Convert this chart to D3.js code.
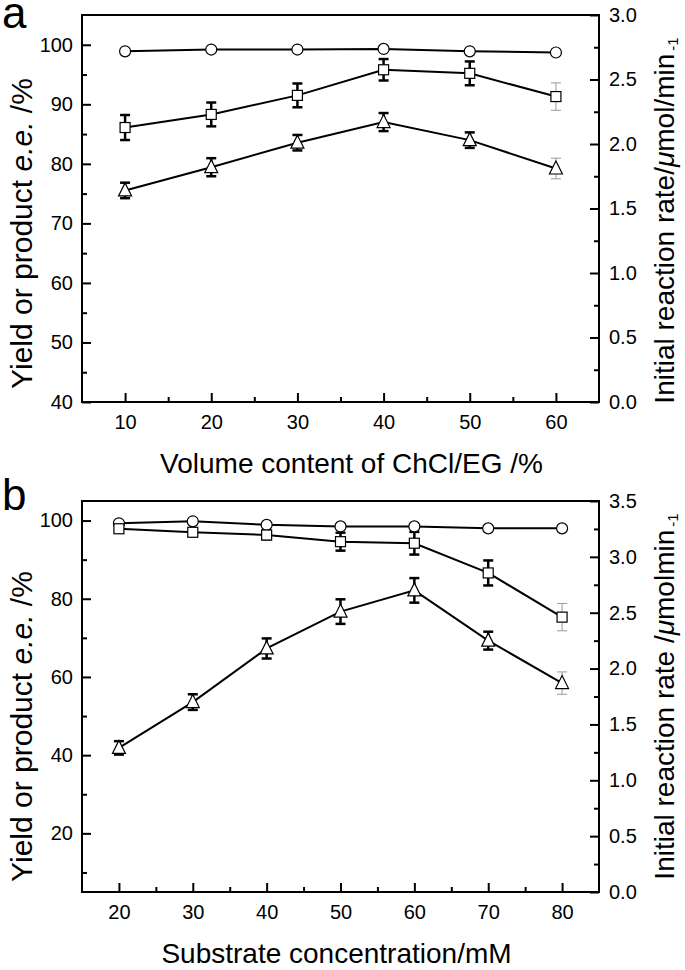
<!DOCTYPE html>
<html><head><meta charset="utf-8">
<script src="https://cdn.jsdelivr.net/npm/d3@7"></script>
<style>
html,body{margin:0;padding:0;background:#fff;}
svg{display:block;font-family:"Liberation Sans",Arial,sans-serif;}
</style></head>
<body>
<svg id="chart" width="685" height="970"></svg>
<script>
// ---------- Data ----------
// Panel a
const xA = [10, 20, 30, 40, 50, 60];
const circleA = [98.9, 99.2, 99.2, 99.3, 98.9, 98.7];          // left axis (%)
const squareA = [86.1, 88.3, 91.5, 95.8, 95.2, 91.3];          // left axis (%)
const squareAErr = [2.1, 2.0, 2.0, 1.8, 2.0, 2.3];
const triA = [1.64, 1.82, 2.01, 2.17, 2.03, 1.81];             // right axis (rate)
const triAErr = [0.06, 0.07, 0.06, 0.07, 0.06, 0.08];
const xTicksA = [10, 20, 30, 40, 50, 60];
const leftTicksA = [40, 50, 60, 70, 80, 90, 100];
const rightTicksA = [0.0, 0.5, 1.0, 1.5, 2.0, 2.5, 3.0];

// Panel b
const xB = [20, 30, 40, 50, 60, 70, 80];
const circleB = [99.3, 99.8, 98.9, 98.5, 98.5, 98.0, 98.0];
const squareB = [97.9, 97.0, 96.3, 94.6, 94.2, 86.6, 75.3];
const squareBErr = [0.6, 0.9, 1.1, 2.3, 2.9, 3.2, 3.5];
const triB = [1.29, 1.70, 2.18, 2.51, 2.70, 2.25, 1.87];
const triBErr = [0.06, 0.07, 0.09, 0.11, 0.11, 0.08, 0.10];
const xTicksB = [20, 30, 40, 50, 60, 70, 80];
const leftTicksB = [20, 40, 60, 80, 100];
const rightTicksB = [0.0, 0.5, 1.0, 1.5, 2.0, 2.5, 3.0, 3.5];

const svg = d3.select("#chart");
const L = 82, R = 599;

function panel(cfg) {
  const g = svg.append("g");
  const x = d3.scaleLinear().domain(cfg.xDomain).range([L, R]);
  const yl = d3.scaleLinear().domain(cfg.lDomain).range([cfg.bottom, cfg.top]);
  const yr = d3.scaleLinear().domain(cfg.rDomain).range([cfg.bottom, cfg.top]);

  const tickStyle = sel => {
    sel.select(".domain").remove();
    sel.selectAll("line").attr("stroke", "#000").attr("stroke-width", 2);
    sel.selectAll("text").attr("fill", "#000").attr("font-size", 20);
  };
  const bx = g.append("g").attr("transform", `translate(0,${cfg.bottom})`);
  bx.call(d3.axisBottom(x).tickValues(cfg.xMinor).tickSize(-5).tickFormat(""));
  tickStyle(bx);
  const bx2 = g.append("g").attr("transform", `translate(0,${cfg.bottom})`);
  bx2.call(d3.axisBottom(x).tickValues(cfg.xTicks).tickSize(-9).tickPadding(13).tickFormat(d3.format("d")));
  tickStyle(bx2);
  const ly = g.append("g").attr("transform", `translate(${L},0)`);
  ly.call(d3.axisLeft(yl).tickValues(cfg.lMinor).tickSize(-5).tickFormat(""));
  tickStyle(ly);
  const ly2 = g.append("g").attr("transform", `translate(${L},0)`);
  ly2.call(d3.axisLeft(yl).tickValues(cfg.lTicks).tickSize(-9).tickPadding(9).tickFormat(d3.format("d")));
  tickStyle(ly2);
  const ry = g.append("g").attr("transform", `translate(${R},0)`);
  ry.call(d3.axisRight(yr).tickValues(cfg.rMinor).tickSize(-5).tickFormat(""));
  tickStyle(ry);
  const ry2 = g.append("g").attr("transform", `translate(${R},0)`);
  ry2.call(d3.axisRight(yr).tickValues(cfg.rTicks).tickSize(-9).tickPadding(10).tickFormat(d3.format(".1f")));
  tickStyle(ry2);

  g.append("rect").attr("x", L).attr("y", cfg.top).attr("width", R - L).attr("height", cfg.bottom - cfg.top)
    .attr("fill", "none").attr("stroke", "#000").attr("stroke-width", 2);

  const n = cfg.xs.length;
  const lineGen = (ys, sc) => d3.line().x((d, i) => x(cfg.xs[i])).y(d => sc(d))(ys);

  g.append("path").attr("d", lineGen(cfg.circle, yl)).attr("fill", "none").attr("stroke", "#000").attr("stroke-width", 2);
  g.append("path").attr("d", lineGen(cfg.square, yl)).attr("fill", "none").attr("stroke", "#000").attr("stroke-width", 2);
  g.append("path").attr("d", lineGen(cfg.tri, yr)).attr("fill", "none").attr("stroke", "#000").attr("stroke-width", 2);

  function errBars(vals, errs, sc) {
    vals.forEach((v, i) => {
      const last = i === n - 1;
      const col = last ? "#999" : "#000";
      const w = last ? 1 : 2.5;
      const cx = x(cfg.xs[i]);
      const y1 = sc(v + errs[i]), y2 = sc(v - errs[i]);
      g.append("line").attr("x1", cx).attr("x2", cx).attr("y1", y1).attr("y2", y2).attr("stroke", col).attr("stroke-width", w);
      [y1, y2].forEach(yy => g.append("line").attr("x1", cx - 5).attr("x2", cx + 5).attr("y1", yy).attr("y2", yy)
        .attr("stroke", col).attr("stroke-width", w));
    });
  }
  errBars(cfg.square, cfg.squareErr, yl);
  errBars(cfg.tri, cfg.triErr, yr);

  cfg.circle.forEach((v, i) => g.append("circle").attr("cx", x(cfg.xs[i])).attr("cy", yl(v)).attr("r", 5.5)
    .attr("fill", "#fff").attr("stroke", "#000").attr("stroke-width", 1.2));
  cfg.square.forEach((v, i) => g.append("rect").attr("x", x(cfg.xs[i]) - 5).attr("y", yl(v) - 5)
    .attr("width", 10).attr("height", 10).attr("fill", "#fff").attr("stroke", "#000").attr("stroke-width", 1.2));
  cfg.tri.forEach((v, i) => {
    const cx = x(cfg.xs[i]), cy = yr(v);
    g.append("path").attr("d", `M${cx},${cy - 7.5}L${cx + 6.5},${cy + 5.5}L${cx - 6.5},${cy + 5.5}Z`)
      .attr("fill", "#fff").attr("stroke", "#000").attr("stroke-width", 1.2);
  });

  svg.append("text").attr("x", 2).attr("y", cfg.letterY).attr("font-size", 44).text(cfg.letter);

  svg.append("text").attr("x", (L + R) / 2 + cfg.xTitleShift).attr("y", cfg.xTitleY).attr("text-anchor", "middle")
    .attr("font-size", 28).text(cfg.xTitle);

  const mid = (cfg.top + cfg.bottom) / 2;
  const lt = svg.append("text").attr("transform", `translate(32,${mid + cfg.lShift}) rotate(-90)`).attr("text-anchor", "middle")
    .attr("font-size", 30);
  lt.append("tspan").text("Yield or product ");
  lt.append("tspan").attr("font-style", "italic").text("e.e.");
  lt.append("tspan").text(" /%");

  const rt = svg.append("text").attr("transform", `translate(674,${mid + cfg.rShift}) rotate(-90)`).attr("text-anchor", "middle")
    .attr("font-size", 28);
  rt.append("tspan").text(cfg.rTitle1);
  rt.append("tspan").attr("font-style", "italic").text("\u03bc");
  rt.append("tspan").text(cfg.rTitle2);
  rt.append("tspan").attr("font-size", 15).attr("dy", 4).attr("dx", 3).text("-1");
}

panel({
  xs: xA, circle: circleA, square: squareA, squareErr: squareAErr, tri: triA, triErr: triAErr,
  xDomain: [5, 65], lDomain: [40, 105], rDomain: [0, 3],
  top: 15, bottom: 402,
  xTicks: xTicksA, xMinor: [15, 25, 35, 45, 55],
  lTicks: leftTicksA, lMinor: [45, 55, 65, 75, 85, 95],
  rTicks: rightTicksA, rMinor: [0.25, 0.75, 1.25, 1.75, 2.25, 2.75],
  letter: "a", letterY: 28, xTitle: "Volume content of ChCl/EG /%", xTitleY: 473, xTitleShift: 11,
  lShift: 25, rShift: 12,
  rTitle1: "Initial reaction rate/", rTitle2: "mol/min"
});

panel({
  xs: xB, circle: circleB, square: squareB, squareErr: squareBErr, tri: triB, triErr: triBErr,
  xDomain: [15, 85], lDomain: [5, 105], rDomain: [0, 3.5],
  top: 501, bottom: 892,
  xTicks: xTicksB, xMinor: [25, 35, 45, 55, 65, 75],
  lTicks: leftTicksB, lMinor: [10, 30, 50, 70, 90],
  rTicks: rightTicksB, rMinor: [0.25, 0.75, 1.25, 1.75, 2.25, 2.75, 3.25],
  letter: "b", letterY: 510, xTitle: "Substrate concentration/mM", xTitleY: 963, xTitleShift: -4,
  lShift: 30, rShift: 0,
  rTitle1: "Initial reaction rate /", rTitle2: "molmin"
});
</script>
</body></html>
